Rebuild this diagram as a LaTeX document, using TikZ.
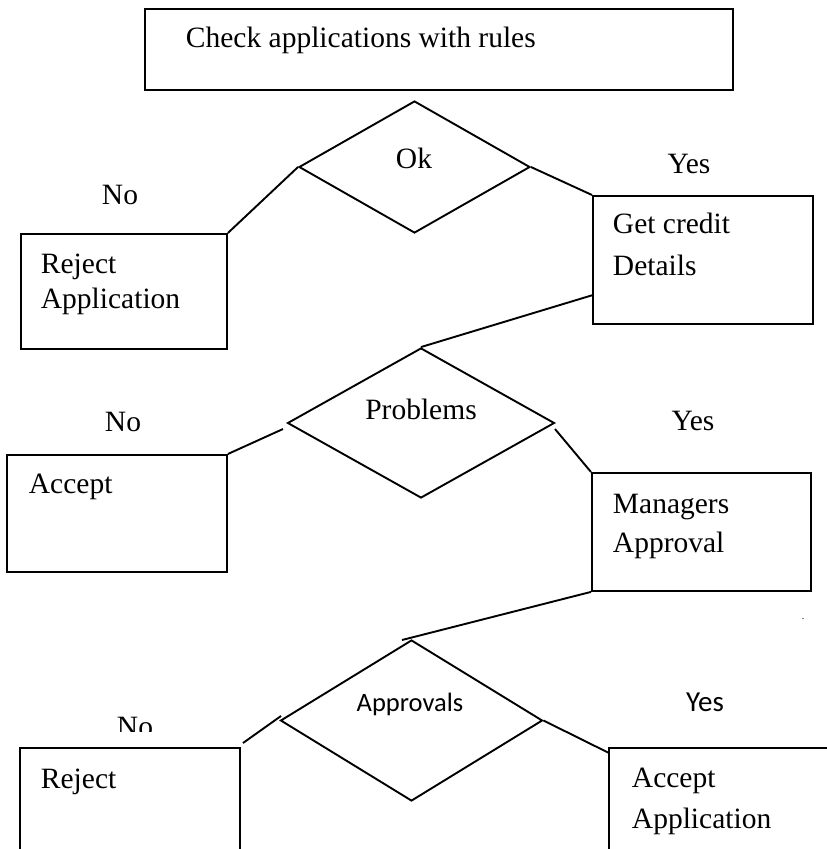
\documentclass[tikz,border=0pt]{standalone}
\usepackage{fontspec}
\setmainfont{Liberation Serif}
\newfontfamily\calib{Carlito}
\usetikzlibrary{shapes.geometric}
\begin{document}
\begin{tikzpicture}[x=1pt,y=-1pt,line width=1.9pt,
  box/.style={draw, rectangle, inner sep=0pt, anchor=north west},
  openbox/.style={rectangle, inner sep=0pt, anchor=north west},
  dia/.style={draw, diamond, inner sep=0pt},
  txt/.style={font=\fontsize{29.5}{35}\selectfont, inner sep=0pt},
  stxt/.style={font=\calib\fontsize{26.5}{32}\selectfont, inner sep=0pt}]
\useasboundingbox (0,0) rectangle (827,849);
% boxes
\node[box, minimum width=588pt, minimum height=81pt] (top) at (144,8) {};
\node[box, minimum width=206pt, minimum height=115pt] (rej) at (20,233) {};
\node[box, minimum width=220pt, minimum height=128pt] (gc) at (592,195) {};
\node[box, minimum width=220pt, minimum height=117pt] (acc) at (6,454) {};
\node[box, minimum width=219pt, minimum height=118pt] (mgr) at (591,472) {};
\node[openbox, minimum width=218pt, minimum height=110pt] (rej2) at (20,748) {};
\node[openbox, minimum width=217pt, minimum height=110pt] (aa) at (609,748) {};
\draw (rej2.south west) -- (rej2.north west) -- (rej2.north east) -- (rej2.south east);
\draw (aa.south west) -- (aa.north west) -- (aa.north east) -- (aa.south east);
% diamonds
\node[dia, minimum width=231pt, minimum height=132pt] (ok) at (414.5,167) {};
\node[dia, minimum width=267pt, minimum height=150pt] (prob) at (421,423) {};
\node[dia, minimum width=262pt, minimum height=161pt] (appr) at (411.5,720.5) {};
% texts
\node[txt, anchor=base west] (t0) at (185,47) {Check applications with rules};
\node[txt, anchor=base] (t1) at (414,168) {Ok};
\node[txt, anchor=base] (y1) at (689,173) {Yes};
\node[txt, anchor=base] (n1) at (120,204) {No};
\node[txt, anchor=base west] (t2) at (40,273) {Reject};
\node[txt, anchor=base west] (t3) at (40,308) {Application};
\node[txt, anchor=base west] (t4) at (612,233) {Get credit};
\node[txt, anchor=base west] (t5) at (612,275) {Details};
\node[txt, anchor=base] (t6) at (421,419) {Problems};
\node[txt, anchor=base] (n2) at (123,431) {No};
\node[txt, anchor=base] (y2) at (693,430) {Yes};
\node[txt, anchor=base west] (t7) at (28,493) {Accept};
\node[txt, anchor=base west] (t8) at (612,513) {Managers};
\node[txt, anchor=base west] (t9) at (612,552) {Approval};
\node[font=\fontsize{10}{10}\selectfont, inner sep=0pt] (dot) at (803,619) {.};
\node[stxt, anchor=base] (t10) at (410,711) {Approvals};
\node[stxt, anchor=base, font=\calib\fontsize{29}{32}\selectfont] (y3) at (705,711) {Yes};
\begin{scope}
\clip (90,700) rectangle (180,731);
\node[txt, anchor=base] (n3) at (135,736) {No};
\end{scope}
\node[txt, anchor=base west] (t11) at (40,788) {Reject};
\node[txt, anchor=base west] (t12) at (631,787) {Accept};
\node[txt, anchor=base west] (t13) at (631,828) {Application};
% connectors
\coordinate (c1) at (593,295);
\coordinate (c2) at (283,429);
\coordinate (c3) at (555,429);
\coordinate (c4) at (402,640);
\coordinate (c5) at (281,716);
\coordinate (c6) at (243,743);
\coordinate (c7) at (609,753);
\draw (ok.west) -- (rej.north east);
\draw (ok.east) -- (gc.north west);
\draw (c1) -- (prob.north);
\draw (c2) -- (acc.north east);
\draw (c3) -- (mgr.north west);
\draw (mgr.south west) -- (c4);
\draw (c5) -- (c6);
\draw (appr.east) -- (c7);
\end{tikzpicture}
\end{document}
